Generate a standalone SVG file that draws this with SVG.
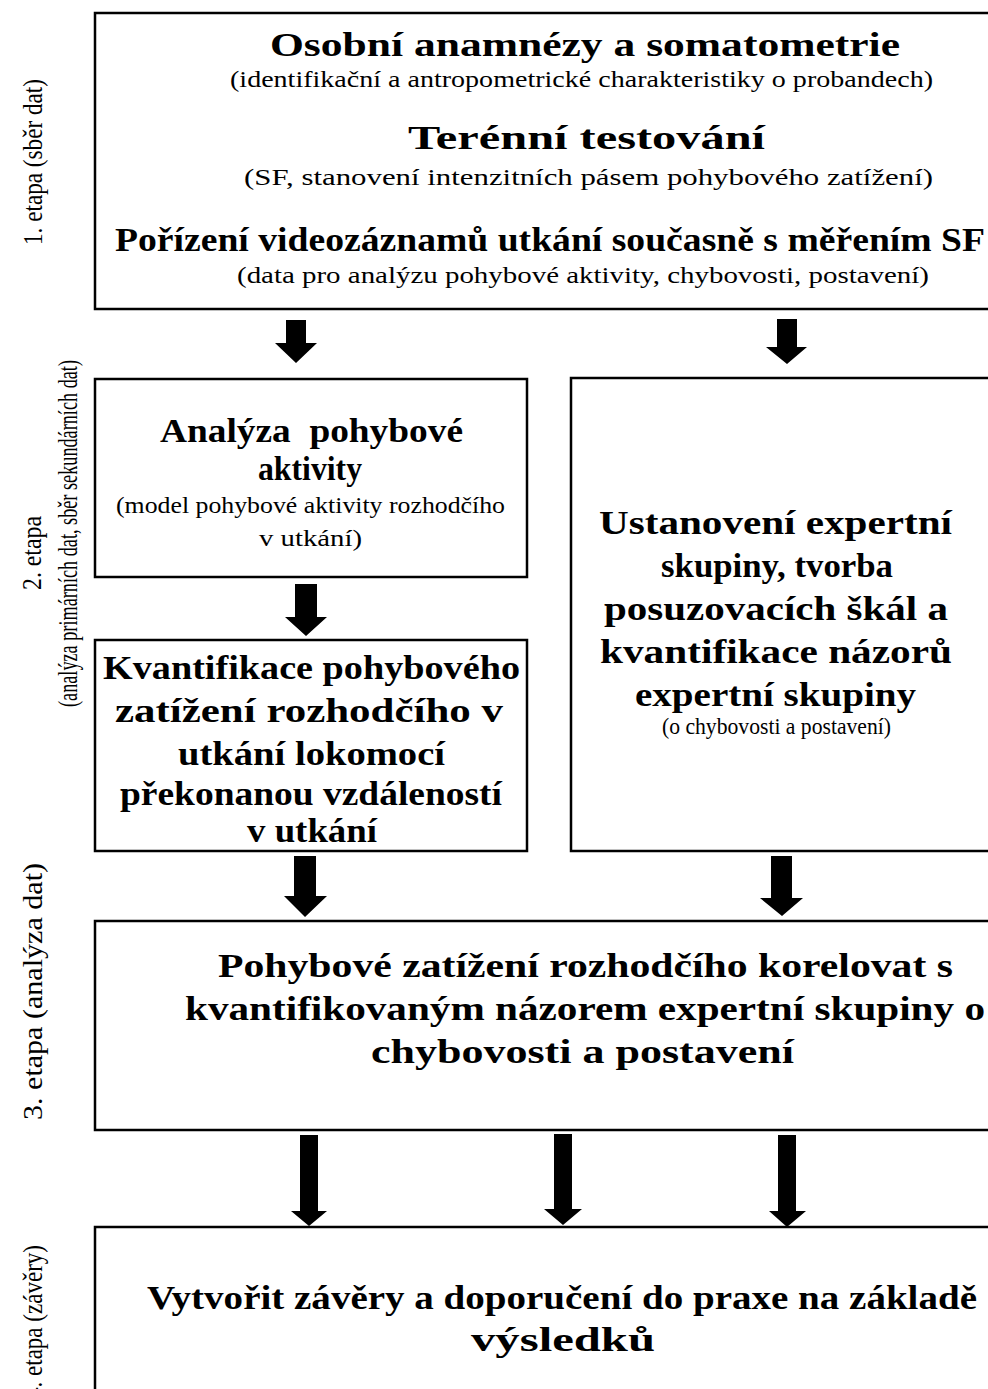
<svg xmlns="http://www.w3.org/2000/svg" width="988" height="1389" viewBox="0 0 988 1389">
  <style>
    .box { fill: #fff; stroke: #000; stroke-width: 2.5; }
    .arrow { fill: #000; stroke: none; }
    text { font-family: "Liberation Serif", "Times New Roman", serif; fill: #000; }
    .h { font-size: 33px; font-weight: bold; }
    .s { font-size: 23px; }
    .lab { font-size: 28px; }
  </style>
  <rect width="988" height="1389" fill="#fff"/>

  <!-- stage labels (rotated) -->
  <g id="stage-labels">
    <text class="lab" transform="translate(42,245) rotate(-90)" textLength="166" lengthAdjust="spacingAndGlyphs">1. etapa (sběr dat)</text>
    <text class="lab" transform="translate(41,590) rotate(-90)" textLength="74" lengthAdjust="spacingAndGlyphs">2. etapa</text>
    <text class="lab" transform="translate(77,707) rotate(-90)" textLength="347" lengthAdjust="spacingAndGlyphs">(analýza primárních dat, sběr sekundárních dat)</text>
    <text class="lab" transform="translate(42,1120) rotate(-90)" textLength="257" lengthAdjust="spacingAndGlyphs">3. etapa (analýza dat)</text>
    <text class="lab" transform="translate(42,1399) rotate(-90)" textLength="154" lengthAdjust="spacingAndGlyphs">4. etapa (závěry)</text>
  </g>

  <!-- stage 1 -->
  <g id="node-sber-dat">
    <rect class="box" x="95" y="13" width="920" height="296"/>
    <text class="h" x="270" y="56" textLength="630" lengthAdjust="spacingAndGlyphs">Osobní anamnézy a somatometrie</text>
    <text class="s" x="230" y="87" textLength="703" lengthAdjust="spacingAndGlyphs">(identifikační a antropometrické charakteristiky o probandech)</text>
    <text class="h" x="408" y="149" textLength="357" lengthAdjust="spacingAndGlyphs">Terénní testování</text>
    <text class="s" x="244" y="185" textLength="689" lengthAdjust="spacingAndGlyphs">(SF, stanovení intenzitních pásem pohybového zatížení)</text>
    <text class="h" x="115" y="251" textLength="870" lengthAdjust="spacingAndGlyphs">Pořízení videozáznamů utkání současně s měřením SF</text>
    <text class="s" x="237" y="283" textLength="692" lengthAdjust="spacingAndGlyphs">(data pro analýzu pohybové aktivity, chybovosti, postavení)</text>
  </g>

  <!-- stage 2, left column -->
  <g id="node-analyza">
    <rect class="box" x="95" y="379" width="432" height="198"/>
    <text class="h" x="160" y="442" textLength="303" lengthAdjust="spacingAndGlyphs" xml:space="preserve">Analýza  pohybové</text>
    <text class="h" x="258" y="480" textLength="104" lengthAdjust="spacingAndGlyphs">aktivity</text>
    <text class="s" x="116" y="513" textLength="389" lengthAdjust="spacingAndGlyphs">(model pohybové aktivity rozhodčího</text>
    <text class="s" x="259" y="546" textLength="103" lengthAdjust="spacingAndGlyphs">v utkání)</text>
  </g>

  <g id="node-kvantifikace">
    <rect class="box" x="95" y="640" width="432" height="211"/>
    <text class="h" x="103" y="679" textLength="417" lengthAdjust="spacingAndGlyphs">Kvantifikace pohybového</text>
    <text class="h" x="115" y="722" textLength="388" lengthAdjust="spacingAndGlyphs">zatížení rozhodčího v</text>
    <text class="h" x="178" y="765" textLength="267" lengthAdjust="spacingAndGlyphs">utkání lokomocí</text>
    <text class="h" x="120" y="805" textLength="382" lengthAdjust="spacingAndGlyphs">překonanou vzdáleností</text>
    <text class="h" x="247" y="842" textLength="130" lengthAdjust="spacingAndGlyphs">v utkání</text>
  </g>

  <!-- stage 2, right column -->
  <g id="node-expertni-skupina">
    <rect class="box" x="571" y="378" width="440" height="473"/>
    <text class="h" x="599" y="534" textLength="353" lengthAdjust="spacingAndGlyphs">Ustanovení expertní</text>
    <text class="h" x="661" y="577" textLength="232" lengthAdjust="spacingAndGlyphs">skupiny, tvorba</text>
    <text class="h" x="604" y="620" textLength="344" lengthAdjust="spacingAndGlyphs">posuzovacích škál a</text>
    <text class="h" x="600" y="663" textLength="352" lengthAdjust="spacingAndGlyphs">kvantifikace názorů</text>
    <text class="h" x="635" y="706" textLength="281" lengthAdjust="spacingAndGlyphs">expertní skupiny</text>
    <text class="s" x="662" y="734" textLength="229" lengthAdjust="spacingAndGlyphs">(o chybovosti a postavení)</text>
  </g>

  <!-- stage 3 -->
  <g id="node-analyza-dat">
    <rect class="box" x="95" y="921" width="920" height="209"/>
    <text class="h" x="218" y="977" textLength="735" lengthAdjust="spacingAndGlyphs">Pohybové zatížení rozhodčího korelovat s</text>
    <text class="h" x="185" y="1020" textLength="800" lengthAdjust="spacingAndGlyphs">kvantifikovaným názorem expertní skupiny o</text>
    <text class="h" x="371" y="1063" textLength="423" lengthAdjust="spacingAndGlyphs">chybovosti a postavení</text>
  </g>

  <!-- stage 4 -->
  <g id="node-zavery">
    <rect class="box" x="95" y="1227" width="920" height="200"/>
    <text class="h" x="147" y="1309" textLength="830" lengthAdjust="spacingAndGlyphs">Vytvořit závěry a doporučení do praxe na základě</text>
    <text class="h" x="471" y="1351" textLength="184" lengthAdjust="spacingAndGlyphs">výsledků</text>
  </g>

  <!-- block arrows -->
  <g id="connectors">
    <polygon class="arrow" points="286,320 306,320 306,343 317,343 296,363 275,343 286,343"/>
    <polygon class="arrow" points="777,319 797,319 797,347 807,347 787,364 766,347 777,347"/>
    <polygon class="arrow" points="295,584 317,584 317,617 327,617 306,636 285,617 295,617"/>
    <polygon class="arrow" points="294,856 316,856 316,896 327,896 305,917 284,896 294,896"/>
    <polygon class="arrow" points="771,856 792,856 792,898 803,898 782,916 760,898 771,898"/>
    <polygon class="arrow" points="300,1135 318,1135 318,1211 327,1211 309,1226 291,1211 300,1211"/>
    <polygon class="arrow" points="554,1134 572,1134 572,1209 582,1209 563,1225 544,1209 554,1209"/>
    <polygon class="arrow" points="778,1135 796,1135 796,1211 806,1211 787,1227 769,1211 778,1211"/>
  </g>
</svg>
